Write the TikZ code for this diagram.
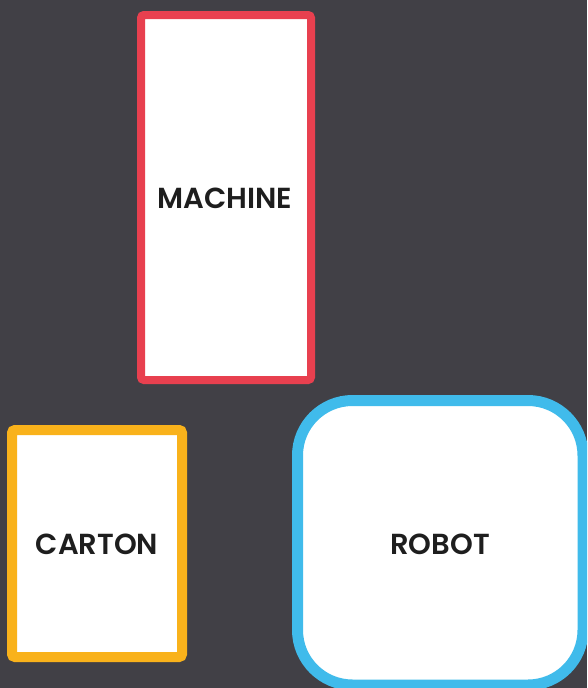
\documentclass[tikz,border=0pt]{standalone}
\usepackage{fontspec}
\setmainfont{Poppins}[BoldFont={Poppins SemiBold}]
\definecolor{bg}{HTML}{414046}
\definecolor{redb}{HTML}{E8404F}
\definecolor{yelb}{HTML}{F9B21B}
\definecolor{blub}{HTML}{40BBEB}
\definecolor{txt}{HTML}{1E1E1E}
\tikzset{
  box/.style={fill=white, line width=#1},
  lbl/.style={font=\fontsize{29}{34}\selectfont\bfseries, text=txt, inner sep=0pt},
}
\begin{document}
\begin{tikzpicture}[x=1pt,y=-1pt]
\useasboundingbox (0,0) rectangle (587,688);
\fill[bg] (0,0) rectangle (587,688);
\begin{scope}
\clip (0,0) rectangle (587,688);
\draw[box=8pt, draw=redb, rounded corners=3pt] (141,15) rectangle (311,380);
\draw[box=10pt, draw=yelb, rounded corners=3pt] (12,430) rectangle (182,657);
\draw[box=11pt, draw=blub, rounded corners=55pt] (297.5,400.5) rectangle (583,685);
\end{scope}
\node[lbl] (machine) at (225,198) {MACHINE};
\node[lbl] (carton) at (97,544) {CARTON};
\node[lbl] (robot) at (440,544) {ROBOT};
\end{tikzpicture}
\end{document}
